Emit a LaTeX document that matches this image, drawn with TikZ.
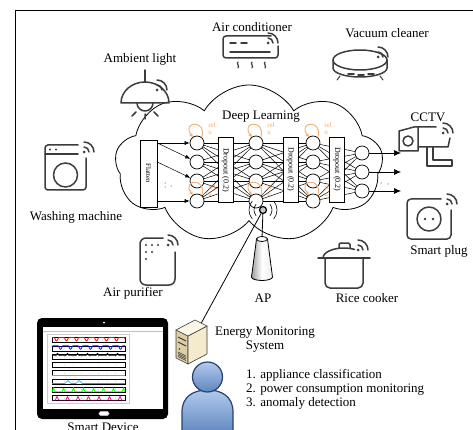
\documentclass[tikz,border=0pt]{standalone}
\usepackage{fontspec}
\setmainfont{Liberation Serif}
\usetikzlibrary{arrows.meta,positioning,shapes.symbols}

\definecolor{icongray}{RGB}{60,60,60}
\definecolor{reluorange}{RGB}{245,172,112}
\definecolor{servfront}{RGB}{222,206,165}
\definecolor{servside}{RGB}{244,234,204}
\definecolor{servtop}{RGB}{251,246,229}
\definecolor{personlight}{RGB}{178,202,236}
\definecolor{persondark}{RGB}{96,134,192}
\definecolor{personline}{RGB}{40,66,112}

% small wireless mark: dot plus two arcs up and to the right
\newcommand{\wifimark}[1]{%
  \fill[icongray] (#1) circle[radius=1.5];
  \draw[icon] (#1) ++(0,-5) arc[start angle=-90,end angle=0,radius=5]
              (#1) ++(0,-10) arc[start angle=-90,end angle=0,radius=10];}

\begin{document}
\begin{tikzpicture}[x=1pt, y=-1pt,
  devname/.style={font=\fontsize{13}{14}\selectfont, inner sep=0pt},
  icon/.style={draw=icongray, line width=1.5pt, line cap=round, line join=round},
  neuron/.style={circle, draw, fill=white, minimum size=14pt, inner sep=0pt, line width=0.7pt},
  dropbox/.style={draw, fill=white, minimum width=15pt, minimum height=65pt,
    inner sep=0pt, line width=0.7pt, font=\fontsize{8}{8}\selectfont},
  link/.style={line width=0.5pt},
  relu/.style={draw=reluorange, line width=0.9pt, -{Stealth[length=4pt,width=4pt]}},
  relutext/.style={text=reluorange, font=\fontsize{7}{7}\selectfont, align=left, inner sep=0pt},
  arrow/.style={-{Latex[length=7pt,width=6pt]}, line width=0.7pt}
]
  \useasboundingbox (0,0) rectangle (473,430);
  \clip (0,0) rectangle (473,430);
  \draw[line width=0.8pt] (15,10) rectangle (490,450);

  % Cloud
  \node[cloud, draw, line width=0.8pt, cloud puffs=9, cloud puff arc=120, aspect=1.7,
    minimum width=268pt, minimum height=158pt, inner sep=0pt] (cloud) at (249,164) {};
  \node[devname] (dl) at (261,117) {Deep Learning};

  % Network
  \foreach \l/\x in {1/197,2/256,3/313}
    \foreach \i/\y in {1/143,2/162,3/181,4/201}
      \node[neuron] (n\l-\i) at (\x,\y) {};
  \foreach \j/\y in {1/153,2/172,3/191}
    \node[neuron] (o-\j) at (362,\y) {};

  \foreach \i in {1,...,4}
    \foreach \j in {1,...,4} {
      \draw[link] (n1-\i) -- (n2-\j);
      \draw[link] (n2-\i) -- (n3-\j);
    }
  \foreach \i in {1,...,4}
    \foreach \j in {1,...,3}
      \draw[link] (n3-\i) -- (o-\j);

  \foreach \l in {1,2,3} {
    \draw[relu] (n\l-1.50) .. controls +(6,-18) and +(-12,-16) .. (n\l-1.125);
    \node[relutext] at ([shift={(15,-14)}]n\l-1.center) {rel\\u};
    \draw[relu] (n\l-4.50) .. controls +(6,-18) and +(-12,-16) .. (n\l-4.125);
    \node[relutext] at ([shift={(15,-10)}]n\l-4.center) {rel\\u};
  }

  \node[dropbox, minimum width=17pt, minimum height=67pt, font=\fontsize{7}{7}\selectfont]
    (flat) at (148.5,173.5) {\rotatebox{-90}{Flatten}};
  \node[dropbox] (d1) at (225.5,170) {\rotatebox{-90}{Dropout (0.2)}};
  \node[dropbox] (d2) at (290.5,169.5) {\rotatebox{-90}{Dropout (0.2)}};
  \node[dropbox] (d3) at (337,169.5) {\rotatebox{-90}{Dropout (0.2)}};

  \draw[-{Latex[length=5pt,width=4pt]}, link] (flat.east |- n1-1) -- (n1-1);
  \draw[-{Latex[length=5pt,width=4pt]}, link] (flat.east |- n1-1) -- (n1-2);
  \draw[-{Latex[length=5pt,width=4pt]}, link] (flat.east |- n1-2) -- (n1-3);
  \draw[-{Latex[length=5pt,width=4pt]}, link] (flat.east |- n1-4) -- (n1-4);
  \fill (165,183) circle[radius=0.5] (165,187) circle[radius=0.5] (171,186) circle[radius=0.5];

  \foreach \j/\y in {1/153,2/172,3/191} {
    \coordinate (out\j) at (401,\y);
    \draw[arrow] (o-\j) -- (out\j);
  }
  \fill (381,183) circle[radius=0.5] (388,184) circle[radius=0.5];

  % Access point
  \node[circle, draw, fill=gray!45, line width=1.2pt, minimum size=7pt, inner sep=0pt]
    (ant) at (263,210) {};
  \draw[line width=0.6pt] (ant) ++(-40:9) arc[start angle=-40,end angle=40,radius=9]
    (ant) ++(-40:14) arc[start angle=-40,end angle=40,radius=14]
    (ant) ++(140:9) arc[start angle=140,end angle=220,radius=9]
    (ant) ++(140:14) arc[start angle=140,end angle=220,radius=14];
  \coordinate (aptop) at (262,238);
  \draw[line width=0.8pt] (ant) -- (aptop);
  \path[draw, line width=0.8pt, left color=gray!75, right color=gray!15, middle color=white]
    (256.5,239) -- (251.5,277) arc[start angle=180,end angle=0,x radius=10.5,y radius=3.5]
    -- (267.5,239) -- cycle;
  \draw[line width=0.8pt, fill=white] (aptop) ++(0,1) ellipse[x radius=5.5,y radius=2.5];
  \node[devname] (aplbl) at (263,298) {AP};

  % Server
  \node[minimum width=31pt, minimum height=43pt, inner sep=0pt] (srv) at (191.5,341) {};
  \draw[line width=0.8pt] (ant) -- (srv.center);
  \begin{scope}[draw=icongray, line width=0.6pt, line join=round]
    \filldraw[fill=servfront] (176,330) -- (188,336) -- (188,364) -- (176,358) -- cycle;
    \filldraw[fill=servside] (188,336) -- (207,326) -- (207,354) -- (188,364) -- cycle;
    \filldraw[fill=servtop] (176,330) -- (195,320) -- (207,326) -- (188,336) -- cycle;
    \draw[line width=1pt] (178,337) -- (186,341) (178,342) -- (186,346);
    \fill[icongray] (179.5,349) circle[radius=0.9];
    \foreach \k in {0,...,3}
      \draw (178,352+1.5*\k) -- (186,356+1.5*\k);
  \end{scope}
  \node[devname, align=center] (ems) at (265,340) {Energy Monitoring\\System};
  \node[devname, align=left, anchor=north west] (tasks) at (246,369)
    {1. appliance classification\\2. power consumption monitoring\\3. anomaly detection};

  % User
  \path[draw=personline, line width=1.2pt, top color=personlight, bottom color=persondark]
    (182,434) -- (182,412) .. controls (182,396) and (194,390) .. (207.5,390)
    .. controls (221,390) and (233,396) .. (233,412) -- (233,434);
  \path[draw=personline, line width=1.2pt, top color=personlight, bottom color=persondark]
    (207.5,377) circle[radius=15];

  % Tablet
  \fill[black, rounded corners=5pt] (37,318) rectangle (168,419);
  \fill[white] (43,327) rectangle (163,409);
  \draw[gray!50] (43,331) -- (163,331);
  \draw[gray!40] (47,334) rectangle (129,403);
  \fill[white] (104,322.5) circle[radius=1];
  \draw[gray!60, fill=white, rounded corners=1.5pt, line width=0.6pt] (99,411.5) rectangle (109,415.5);
  \foreach \i in {0,...,7} {
    \pgfmathsetmacro\yc{340+8.3*\i}
    \draw[line width=0.6pt] (52,\yc-2.5) rectangle (125,\yc+2.5);
    \foreach \k in {0,...,8}
      \fill[gray!60] (56+8.5*\k,\yc) circle[radius=0.4];
  }
  \draw[red, line width=0.7pt] plot[domain=52:125, samples=150]
    (\x, {337.5+3.5*max(0,sin(36*(\x-54)))^2});
  \draw[blue, line width=0.7pt] plot[domain=52:125, samples=150]
    (\x, {345.8+3.5*max(0,sin(36*(\x-58)))^2});
  \draw[black, line width=0.6pt] plot[domain=52:125, samples=150]
    (\x, {355.6-2.5*max(0,sin(36*(\x-55)))^6});
  \draw[orange, line width=0.9pt] (52,375.7) -- (125,375.7);
  \draw[cyan, line width=0.7pt] plot[domain=52:125, samples=150]
    (\x, {383.5-3*max(0,1-abs(\x-68)/3)-3*max(0,1-abs(\x-79)/3)});
  \draw[green, line width=0.7pt] plot[domain=52:125, samples=150]
    (\x, {391.8-4*max(0,sin(36*(\x-51)))^8});
  \draw[magenta, line width=0.7pt] plot[domain=52:125, samples=150]
    (\x, {400.1-4*max(0,1-abs(mod(\x-52,10.5)-5)/1.6)});
  \node[devname, anchor=base] (sd) at (103,431) {Smart Device};

  % Ambient light
  \node[devname] (amb) at (140,59) {Ambient light};
  \draw[icon] (145,70) -- (145,82);
  \draw[icon] (121,103) arc[start angle=180,end angle=360,x radius=24,y radius=21] -- cycle;
  \draw[icon] (137,103) arc[start angle=180,end angle=0,radius=8];
  \draw[icon] (145,114) -- (145,119) (136,112) -- (132,116) (154,112) -- (158,116);
  \wifimark{157,90}

  % Air conditioner
  \node[devname] (ac) at (252,27) {Air conditioner};
  \draw[icon, rounded corners=3pt] (271,36) -- (223,36) -- (223,58) -- (278,58) -- (278,46);
  \draw[icon] (230,43) -- (236,43) (241,43) -- (247,43) (230,52) -- (270,52);
  \foreach \vx in {238,252,265}
    \draw[icon, line width=1.2pt] (\vx,62) .. controls (\vx-2,64) and (\vx+2,66) .. (\vx,68);
  \wifimark{268,43}

  % Vacuum cleaner
  \node[devname] (vac) at (387,33) {Vacuum cleaner};
  \draw[icon] (360,60) ellipse[x radius=27,y radius=10];
  \draw[icon] (333,60) -- (333,68) arc[start angle=180,end angle=0,x radius=27,y radius=9] -- (387,60);
  \draw[icon] (348,74) -- (354,74) (358,75) -- (364,75) (368,74) -- (374,74);
  \draw[icon, line width=1pt] (340,76) -- (337,80) (380,76) -- (383,80);
  \wifimark{378,57}

  % Washing machine
  \node[devname] (wm) at (76,217) {Washing machine};
  \draw[icon, rounded corners=3pt] (86,158) -- (86,190) -- (45,190) -- (45,145) -- (78,145);
  \draw[icon] (45,154) -- (78,154);
  \fill[icongray] (50,149.5) circle[radius=1.1] (56,149.5) circle[radius=1.1];
  \draw[icon] (65.5,175) circle[radius=12];
  \wifimark{84,152}

  % Air purifier
  \node[devname] (ap2) at (133,293) {Air purifier};
  \draw[icon, rounded corners=6pt] (163,238) -- (140,238) -- (140,285) -- (175,285) -- (175,252);
  \fill[icongray] (146,245) circle[radius=1.1] (152,245) circle[radius=1.1] (158,245) circle[radius=1.1]
    (146,252) circle[radius=1.1] (152,252) circle[radius=1.1] (146,259) circle[radius=1.1];
  \wifimark{168,245}

  % Rice cooker
  \node[devname] (rc) at (367,298) {Rice cooker};
  \draw[icon] (318,258) -- (370,258);
  \draw[icon, rounded corners=5pt] (325,258) -- (325,288) -- (363,288) -- (363,258);
  \draw[icon] (323,258) arc[start angle=180,end angle=300,x radius=21,y radius=10];
  \draw[icon, rounded corners=1.5pt] (339,248) -- (339,243) -- (350,243) -- (350,248);
  \wifimark{358,250}

  % CCTV
  \node[devname] (cctv) at (428,117) {CCTV};
  \draw[icon] (399,131) -- (414,127) -- (418,127) -- (418,151) -- (399,151) -- cycle;
  \draw[icon] (408,141) circle[radius=5];
  \draw[icon] (418,127) -- (436,127) (418,147) -- (448,147) -- (450,138);
  \draw[icon] (427,147) -- (427,166) -- (452,166) -- (452,160) -- (433,160) -- (433,147);
  \wifimark{443,133}

  % Smart plug
  \node[devname] (sp) at (439,251) {Smart plug};
  \draw[icon, rounded corners=4pt] (441,199) -- (407,199) -- (407,239) -- (451,239) -- (451,210);
  \draw[icon] (429,219) circle[radius=12];
  \fill[icongray] (425,219) circle[radius=1.3] (433,219) circle[radius=1.3];
  \wifimark{447,204}
\end{tikzpicture}
\end{document}
